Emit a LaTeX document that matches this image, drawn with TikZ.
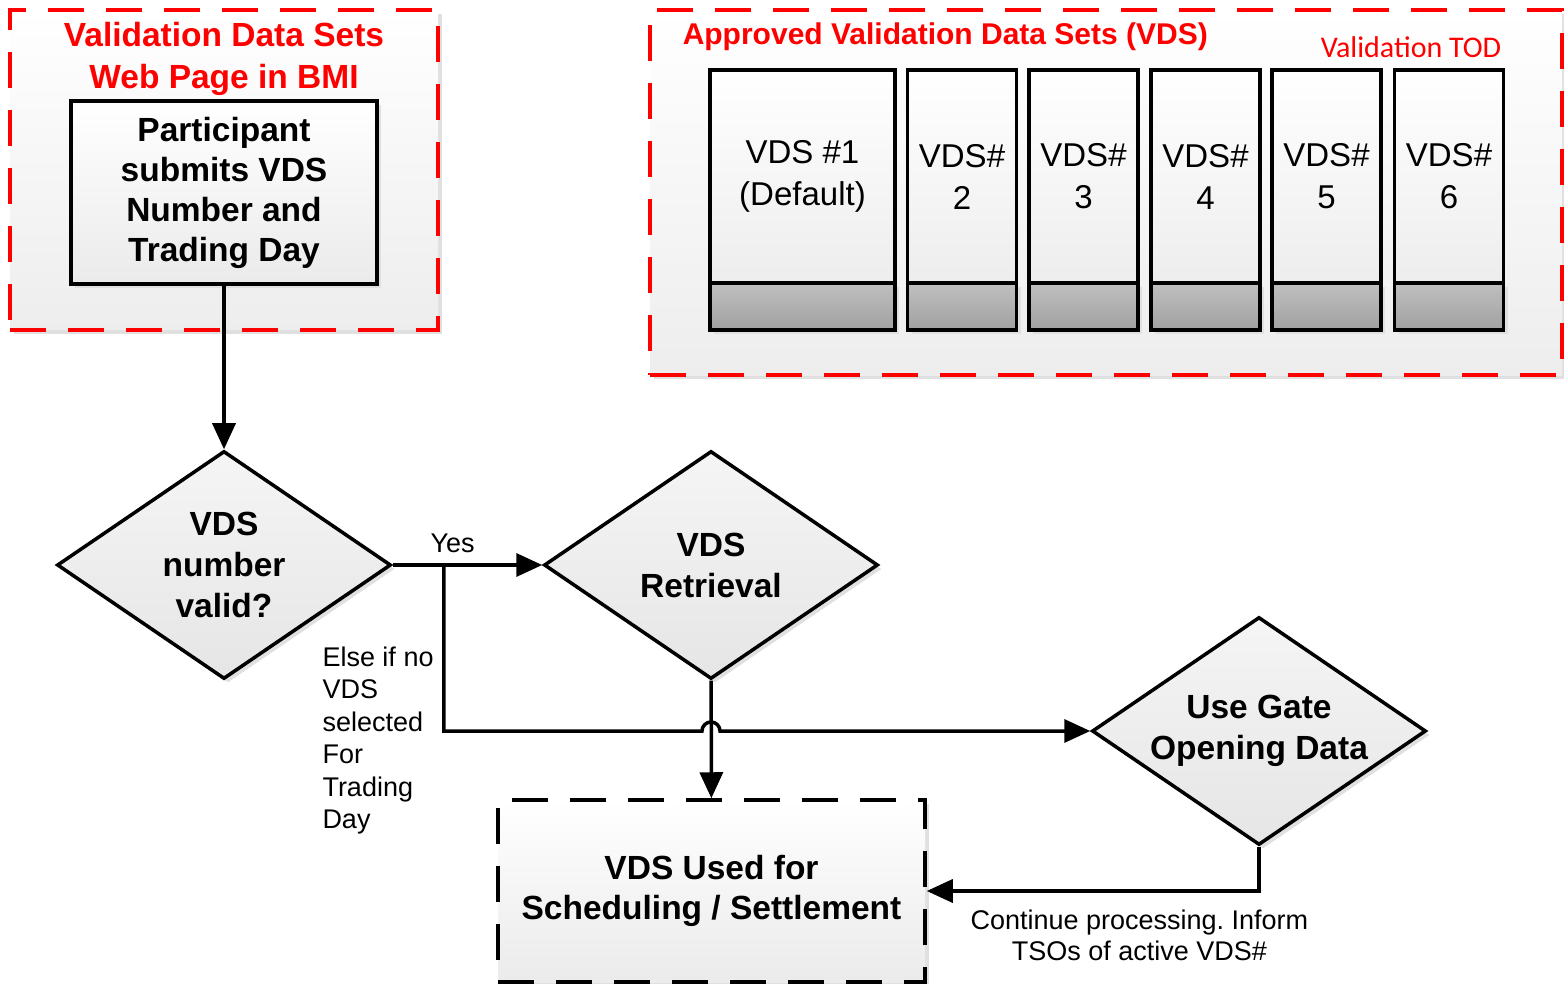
\documentclass[tikz,border=0pt]{standalone}
\usepackage{fontspec}
\setmainfont{Liberation Sans}
\newfontfamily\caliber{Carlito}
\usetikzlibrary{arrows.meta,shapes.geometric,shadows,calc,positioning}
\frenchspacing

\begin{document}
\begin{tikzpicture}[x=1pt, y=-1pt, >={Triangle[length=26pt,width=23pt]}, line width=3.5pt,
	softshadow/.style={drop shadow={shadow xshift=4pt, shadow yshift=-4pt, fill=black!12, opacity=1}},
	redbox/.style={rectangle, draw=red, dash pattern=on 36pt off 22pt, top color=white, bottom color=black!7, softshadow},
	redtitle/.style={text=red, font=\fontsize{33.5pt}{42pt}\selectfont\bfseries, align=center, inner sep=0pt},
	procbox/.style={rectangle, draw, top color=white, bottom color=black!8, softshadow, align=center,
		font=\fontsize{33.5pt}{40pt}\selectfont\bfseries},
	decision/.style={diamond, draw, aspect=1.465, minimum width=334pt, minimum height=228pt, inner sep=0pt,
		top color=black!4, bottom color=black!10, softshadow, align=center,
		font=\fontsize{33.5pt}{41pt}\selectfont\bfseries},
	vdstop/.style={rectangle, draw, outer sep=0pt, inner sep=2pt, minimum width=109pt, minimum height=213pt,
		top color=white, bottom color=black!7, align=center, font=\fontsize{33pt}{42pt}\selectfont},
	vdsbase/.style={rectangle, draw, outer sep=0pt, minimum width=109pt, minimum height=47pt,
		top color=black!25, bottom color=black!37, softshadow},
	lbl/.style={inner sep=2pt, font=\fontsize{27pt}{32.5pt}\selectfont}]

	\useasboundingbox (0,0) rectangle (1564,984);
	\fill[white] (0,0) rectangle (1564,984);
	\clip (0,0) rectangle (1564,984);

	% Groups
	\node [redbox, minimum width=428pt, minimum height=320pt]  (webpage)  at (224,170)   {};
	\node [redbox, minimum width=912pt, minimum height=365pt]  (approved) at (1106,192.5) {};
	\node [redtitle]  (webtitle) at (224,59)   {Validation Data Sets\\Web Page in BMI};
	\node [redtitle, anchor=west, font=\fontsize{30pt}{36pt}\selectfont\bfseries] (apptitle) at (681,37) {Approved Validation Data Sets (VDS)};
	\node [redtitle, anchor=east, font=\fontsize{30pt}{36pt}\selectfont\caliber] (todlbl) at (1503,47) {Validation TOD};

	% Data sets
	\node [vdstop, minimum width=185pt] (vds1) at (802.5,176.5) {VDS \#1\\(Default)};
	\node [vdsbase, minimum width=185pt, below=0pt of vds1] (base1) {};
	\foreach \k/\cx in {2/962,3/1083.5,4/1205.5,5/1326.5,6/1449} {
		\node [vdstop] (vds\k) at (\cx,176.5) {VDS\#\\\k};
		\node [vdsbase, below=0pt of vds\k] (base\k) {};
	}

	% Nodes
	\node [procbox, minimum width=306pt, minimum height=183pt] (part) at (224,192.5) {Participant\\submits VDS\\Number and\\Trading Day};
	\node [decision] (valid) at (224,565) {VDS\\number\\valid?};
	\node [decision] (retr)  at (711,565) {VDS\\Retrieval};
	\node [decision] (gate)  at (1259,731) {Use Gate\\Opening Data};
	\node [procbox, dash pattern=on 36pt off 22pt, minimum width=427pt, minimum height=182pt] (used) at (711.5,891) {VDS Used for\\Scheduling / Settlement};

	% Paths
	\draw [->] (part) -- (valid);
	\coordinate (split) at ($(valid.east)+(51,0)$);
	\draw [->] (valid.east) -- node [lbl, above=8pt, pos=0.4] (yeslbl) {Yes} (retr.west);
	\draw [->] (split) |- ($(retr.south |- gate.west)+(-9,0)$) arc [start angle=180, end angle=0, radius=9pt] -- (gate.west);
	\draw [->] (retr) -- (used);
	\draw [->] (gate.south) |- node [lbl, below=15pt, pos=0.68, align=center, font=\fontsize{27pt}{31.5pt}\selectfont] (contlbl) {Continue processing. Inform\\TSOs of active VDS\#} (used.east);
	\node [lbl, anchor=north west, align=left] (elselbl) at ($(split)+(-125,78)$) {Else if no\\VDS\\selected\\For\\Trading\\Day};

\end{tikzpicture}
\end{document}
